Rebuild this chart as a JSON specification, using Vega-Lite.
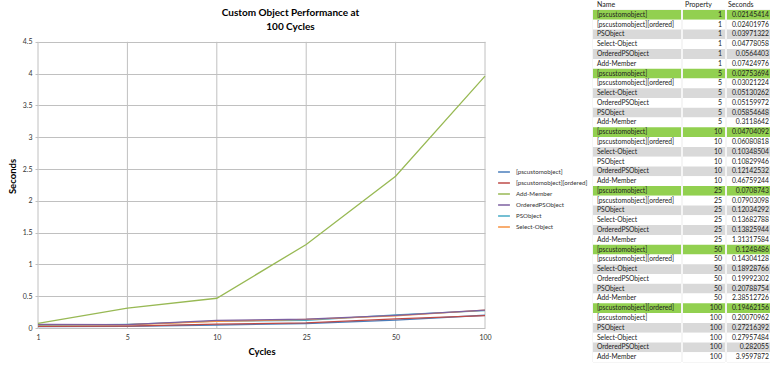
{
  "$schema": "https://vega.github.io/schema/vega-lite/v6.json",
  "padding": {"left": 7, "top": 0, "right": 0, "bottom": 0},
  "background": "white",
  "config": {"font": "Lato", "view": {"stroke": null}},
  "data": {"values": [
    {"Name": "[pscustomobject]", "Property": 1, "Seconds": 0.02145414},
    {"Name": "[pscustomobject][ordered]", "Property": 1, "Seconds": 0.02401976},
    {"Name": "PSObject", "Property": 1, "Seconds": 0.03971322},
    {"Name": "Select-Object", "Property": 1, "Seconds": 0.04778058},
    {"Name": "OrderedPSObject", "Property": 1, "Seconds": 0.0564403},
    {"Name": "Add-Member", "Property": 1, "Seconds": 0.07424976},
    {"Name": "[pscustomobject]", "Property": 5, "Seconds": 0.02753694},
    {"Name": "[pscustomobject][ordered]", "Property": 5, "Seconds": 0.03021224},
    {"Name": "Select-Object", "Property": 5, "Seconds": 0.05130262},
    {"Name": "OrderedPSObject", "Property": 5, "Seconds": 0.05159972},
    {"Name": "PSObject", "Property": 5, "Seconds": 0.05854648},
    {"Name": "Add-Member", "Property": 5, "Seconds": 0.3118642},
    {"Name": "[pscustomobject]", "Property": 10, "Seconds": 0.04704092},
    {"Name": "[pscustomobject][ordered]", "Property": 10, "Seconds": 0.06080818},
    {"Name": "Select-Object", "Property": 10, "Seconds": 0.10348504},
    {"Name": "PSObject", "Property": 10, "Seconds": 0.10829946},
    {"Name": "OrderedPSObject", "Property": 10, "Seconds": 0.12142532},
    {"Name": "Add-Member", "Property": 10, "Seconds": 0.46759244},
    {"Name": "[pscustomobject]", "Property": 25, "Seconds": 0.0708743},
    {"Name": "[pscustomobject][ordered]", "Property": 25, "Seconds": 0.07903098},
    {"Name": "PSObject", "Property": 25, "Seconds": 0.12034292},
    {"Name": "Select-Object", "Property": 25, "Seconds": 0.13682788},
    {"Name": "OrderedPSObject", "Property": 25, "Seconds": 0.13825944},
    {"Name": "Add-Member", "Property": 25, "Seconds": 1.31317584},
    {"Name": "[pscustomobject]", "Property": 50, "Seconds": 0.1248486},
    {"Name": "[pscustomobject][ordered]", "Property": 50, "Seconds": 0.14304128},
    {"Name": "Select-Object", "Property": 50, "Seconds": 0.18928766},
    {"Name": "OrderedPSObject", "Property": 50, "Seconds": 0.19992302},
    {"Name": "PSObject", "Property": 50, "Seconds": 0.20788754},
    {"Name": "Add-Member", "Property": 50, "Seconds": 2.38512726},
    {"Name": "[pscustomobject][ordered]", "Property": 100, "Seconds": 0.19462156},
    {"Name": "[pscustomobject]", "Property": 100, "Seconds": 0.20070962},
    {"Name": "PSObject", "Property": 100, "Seconds": 0.27216392},
    {"Name": "Select-Object", "Property": 100, "Seconds": 0.27957484},
    {"Name": "OrderedPSObject", "Property": 100, "Seconds": 0.282055},
    {"Name": "Add-Member", "Property": 100, "Seconds": 3.9597872}
  ]},
  "spacing": 100,
  "hconcat": [
    {
      "width": 447,
      "height": 318,
      "title": {"text": ["Custom Object Performance at", "100 Cycles"], "fontSize": 10, "fontWeight": "bold", "lineHeight": 14.5, "color": "#000000", "anchor": "middle", "frame": "group", "dx": 29, "offset": -22},
      "encoding": {
        "x": {"field": "Property", "type": "ordinal", "sort": "ascending", "scale": {"type": "point", "padding": 0},
              "axis": {"title": "Cycles", "labelAngle": 0, "grid": false, "labelFontSize": 7, "labelColor": "#333333", "titleFontSize": 9.5, "titleColor": "#000000", "domain": false, "ticks": false, "labelPadding": 5, "titlePadding": 6}}
      },
      "layer": [
        {
          "transform": [{"aggregate": [{"op": "count", "as": "n"}], "groupby": ["Property"]}],
          "mark": {"type": "rule", "color": "#C0C0C0", "strokeWidth": 1},
          "encoding": {
            "y": {"datum": 0, "type": "quantitative", "scale": {"domain": [0, 5.0], "nice": false},
                  "axis": {"values": [0, 0.5, 1, 1.5, 2, 2.5, 3, 3.5, 4, 4.5], "format": "~g", "grid": true, "title": "Seconds", "titleY": 166, "labelFontSize": 7, "labelColor": "#333333", "titleFontSize": 9.5, "titleColor": "#000000", "gridColor": "#C0C0C0", "domain": false, "tickSize": 3, "tickColor": "#C0C0C0", "labelPadding": 3, "titlePadding": 5}},
            "y2": {"datum": 4.5}
          }
        },
        {
          "mark": {"type": "line", "strokeWidth": 1.3},
          "encoding": {
            "y": {"field": "Seconds", "type": "quantitative", "scale": {"domain": [0, 5.0], "nice": false},
                  "axis": {"values": [0, 0.5, 1, 1.5, 2, 2.5, 3, 3.5, 4, 4.5], "format": "~g", "grid": true, "title": "Seconds", "titleY": 166, "labelFontSize": 7, "labelColor": "#333333", "titleFontSize": 9.5, "titleColor": "#000000", "gridColor": "#C0C0C0", "domain": false, "tickSize": 3, "tickColor": "#C0C0C0", "labelPadding": 3, "titlePadding": 5}},
            "color": {"field": "Name", "type": "nominal",
                      "scale": {"domain": ["[pscustomobject]", "[pscustomobject][ordered]", "Add-Member", "OrderedPSObject", "PSObject", "Select-Object"],
                                "range": ["#4A7EBB", "#BE4B48", "#98B954", "#7D60A0", "#46AAC5", "#F69240"]},
                      "legend": {"title": null, "orient": "none", "legendX": 459, "legendY": 155, "symbolType": "stroke", "symbolSize": 140, "symbolStrokeWidth": 1.5, "labelFontSize": 6.2, "labelColor": "#333333", "labelOffset": 5, "rowPadding": 0}}
          }
        }
      ]
    },
    {
      "transform": [
        {"window": [{"op": "row_number", "as": "idx"}]},
        {"window": [{"op": "rank", "as": "r"}], "groupby": ["Property"], "sort": [{"field": "Seconds", "order": "ascending"}]}
      ],
      "spacing": 0,
      "hconcat": [
        {
          "width": 88, "height": 352,
          "view": {"stroke": "#D4D4D4", "strokeWidth": 0.5},
          "title": {"text": "Name", "anchor": "start", "fontSize": 7, "fontWeight": "normal", "offset": 2, "dx": 4, "color": "#222222"},
          "encoding": {"y": {"field": "idx", "type": "ordinal", "axis": null, "scale": {"paddingInner": 0, "paddingOuter": 0}}},
          "layer": [
            {"mark": {"type": "rect"}, "encoding": {"fill": {"condition": [{"test": "datum.r == 1", "value": "#92D050"}, {"test": "datum.idx % 2 == 1", "value": "#D9D9D9"}], "value": "#FFFFFF"}}},
            {"mark": {"type": "text", "align": "left", "dx": 4, "fontSize": 6.7, "color": "#222222"},
             "encoding": {"x": {"datum": 0, "type": "quantitative", "scale": {"domain": [0, 1]}, "axis": null}, "text": {"field": "Name", "type": "nominal"}}}
          ]
        },
        {
          "width": 42, "height": 352,
          "view": {"stroke": "#D4D4D4", "strokeWidth": 0.5},
          "title": {"text": "Property", "anchor": "start", "fontSize": 7, "fontWeight": "normal", "offset": 2, "dx": 2, "color": "#222222"},
          "encoding": {"y": {"field": "idx", "type": "ordinal", "axis": null, "scale": {"paddingInner": 0, "paddingOuter": 0}}},
          "layer": [
            {"mark": {"type": "rect"}, "encoding": {"fill": {"condition": [{"test": "datum.r == 1", "value": "#92D050"}, {"test": "datum.idx % 2 == 1", "value": "#D9D9D9"}], "value": "#FFFFFF"}}},
            {"mark": {"type": "text", "align": "right", "dx": -3, "fontSize": 7, "color": "#222222"},
             "encoding": {"x": {"datum": 1, "type": "quantitative", "scale": {"domain": [0, 1]}, "axis": null}, "text": {"field": "Property", "type": "nominal"}}}
          ]
        },
        {
          "width": 43, "height": 352,
          "view": {"stroke": "#D4D4D4", "strokeWidth": 0.5},
          "title": {"text": "Seconds", "anchor": "start", "fontSize": 7, "fontWeight": "normal", "offset": 2, "dx": 1, "color": "#222222"},
          "encoding": {"y": {"field": "idx", "type": "ordinal", "axis": null, "scale": {"paddingInner": 0, "paddingOuter": 0}}},
          "layer": [
            {"mark": {"type": "rect"}, "encoding": {"fill": {"condition": [{"test": "datum.r == 1", "value": "#92D050"}, {"test": "datum.idx % 2 == 1", "value": "#D9D9D9"}], "value": "#FFFFFF"}}},
            {"mark": {"type": "text", "align": "right", "dx": -1, "fontSize": 6.8, "color": "#222222"},
             "encoding": {"x": {"datum": 1, "type": "quantitative", "scale": {"domain": [0, 1]}, "axis": null}, "text": {"field": "Seconds", "type": "nominal"}}}
          ]
        }
      ]
    }
  ]
}
